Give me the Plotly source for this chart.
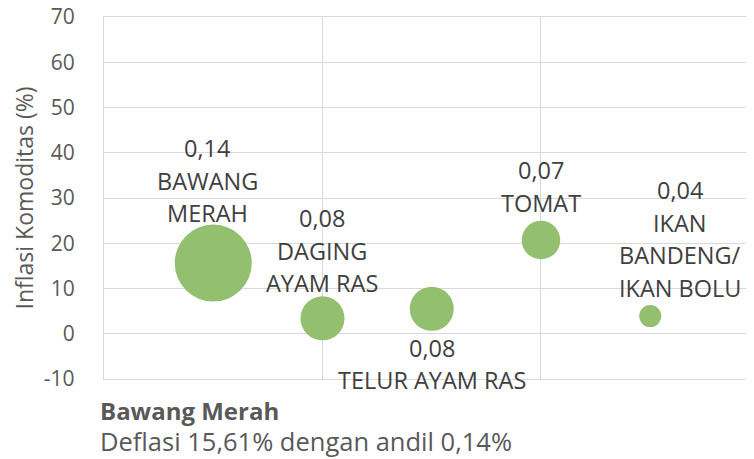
import plotly.graph_objects as go

komoditas = ["BAWANG<br>MERAH", "DAGING<br>AYAM RAS", "TELUR AYAM RAS", "TOMAT", "IKAN<br>BANDENG/<br>IKAN BOLU"]
x_pos = [0.5, 1.0, 1.5, 2.0, 2.5]
inflasi = [15.61, 3.4, 5.5, 20.7, 3.9]
andil = [0.14, 0.08, 0.08, 0.07, 0.04]
andil_label = ["0,14", "0,08", "0,08", "0,07", "0,04"]

y_ticks = [-10, 0, 10, 20, 30, 40, 50, 60, 70]

GREEN = "#92C06E"
TXT = "#404040"
GRID = "#D9D9D9"
FONT = "Open Sans"

fig = go.Figure()
fig.add_trace(go.Scatter(
    x=x_pos, y=inflasi, mode="markers",
    marker=dict(size=andil, sizemode="diameter", sizeref=1/550,
                color=GREEN, line=dict(width=0), opacity=1),
    hoverinfo="skip", showlegend=False, cliponaxis=False,
))

# label placement: x offset and y offset (px) of first line centre from bubble centre
label_dx = [-6, 0, 0, 0, 30]
label_dy = [-115, -100, 39, -70, -126]
LINE_STEP = 32.5
for xi, yi, name, lab, dx, dy in zip(x_pos, inflasi, komoditas, andil_label, label_dx, label_dy):
    lines = [lab] + name.split("<br>")
    for k, ln in enumerate(lines):
        fig.add_annotation(
            x=xi, y=yi, text=ln, showarrow=False,
            xanchor="center", yanchor="middle", align="center",
            xshift=dx, yshift=-(dy + k * LINE_STEP),
            font=dict(family=FONT, size=23.5, color=TXT),
        )

fig.add_annotation(
    xref="paper", yref="paper", x=-0.01, y=-0.088, xanchor="left", yanchor="middle",
    text="<b>Bawang Merah</b>", showarrow=False, align="left",
    font=dict(family=FONT, size=24, color="#595959"),
)
fig.add_annotation(
    xref="paper", yref="paper", x=-0.01, y=-0.172, xanchor="left", yanchor="middle",
    text="Deflasi 15,61% dengan andil 0,14%", showarrow=False, align="left",
    font=dict(family=FONT, size=25.5, color="#595959"),
)

fig.update_xaxes(range=[0, 2.975], tickvals=[0, 1, 2, 3], showticklabels=False,
                 showgrid=True, gridcolor=GRID, gridwidth=1.3,
                 showline=True, linecolor=GRID, linewidth=1.3, mirror=True,
                 zeroline=False, fixedrange=True, automargin=False)
fig.update_yaxes(range=[-10, 70], tickvals=y_ticks, ticktext=[str(v) for v in y_ticks],
                 showgrid=True, gridcolor=GRID, gridwidth=1.3,
                 showline=True, linecolor=GRID, linewidth=1.3,
                 zeroline=False, ticklabelstandoff=24, automargin=False,
                 ticklabeloverflow="allow",
                 tickfont=dict(family=FONT, size=21, color="#595959"),
                 title=dict(text="Inflasi Komoditas (%)", standoff=6,
                            font=dict(family=FONT, size=23, color="#595959")))

# the page puts the figure 8px in from the top-left corner
fig.update_layout(
    width=754, height=459,
    margin=dict(l=96, r=8, t=9, b=88),
    plot_bgcolor="white", paper_bgcolor="white",
    font=dict(family=FONT, color=TXT),
)

fig.write_html("out.html")
